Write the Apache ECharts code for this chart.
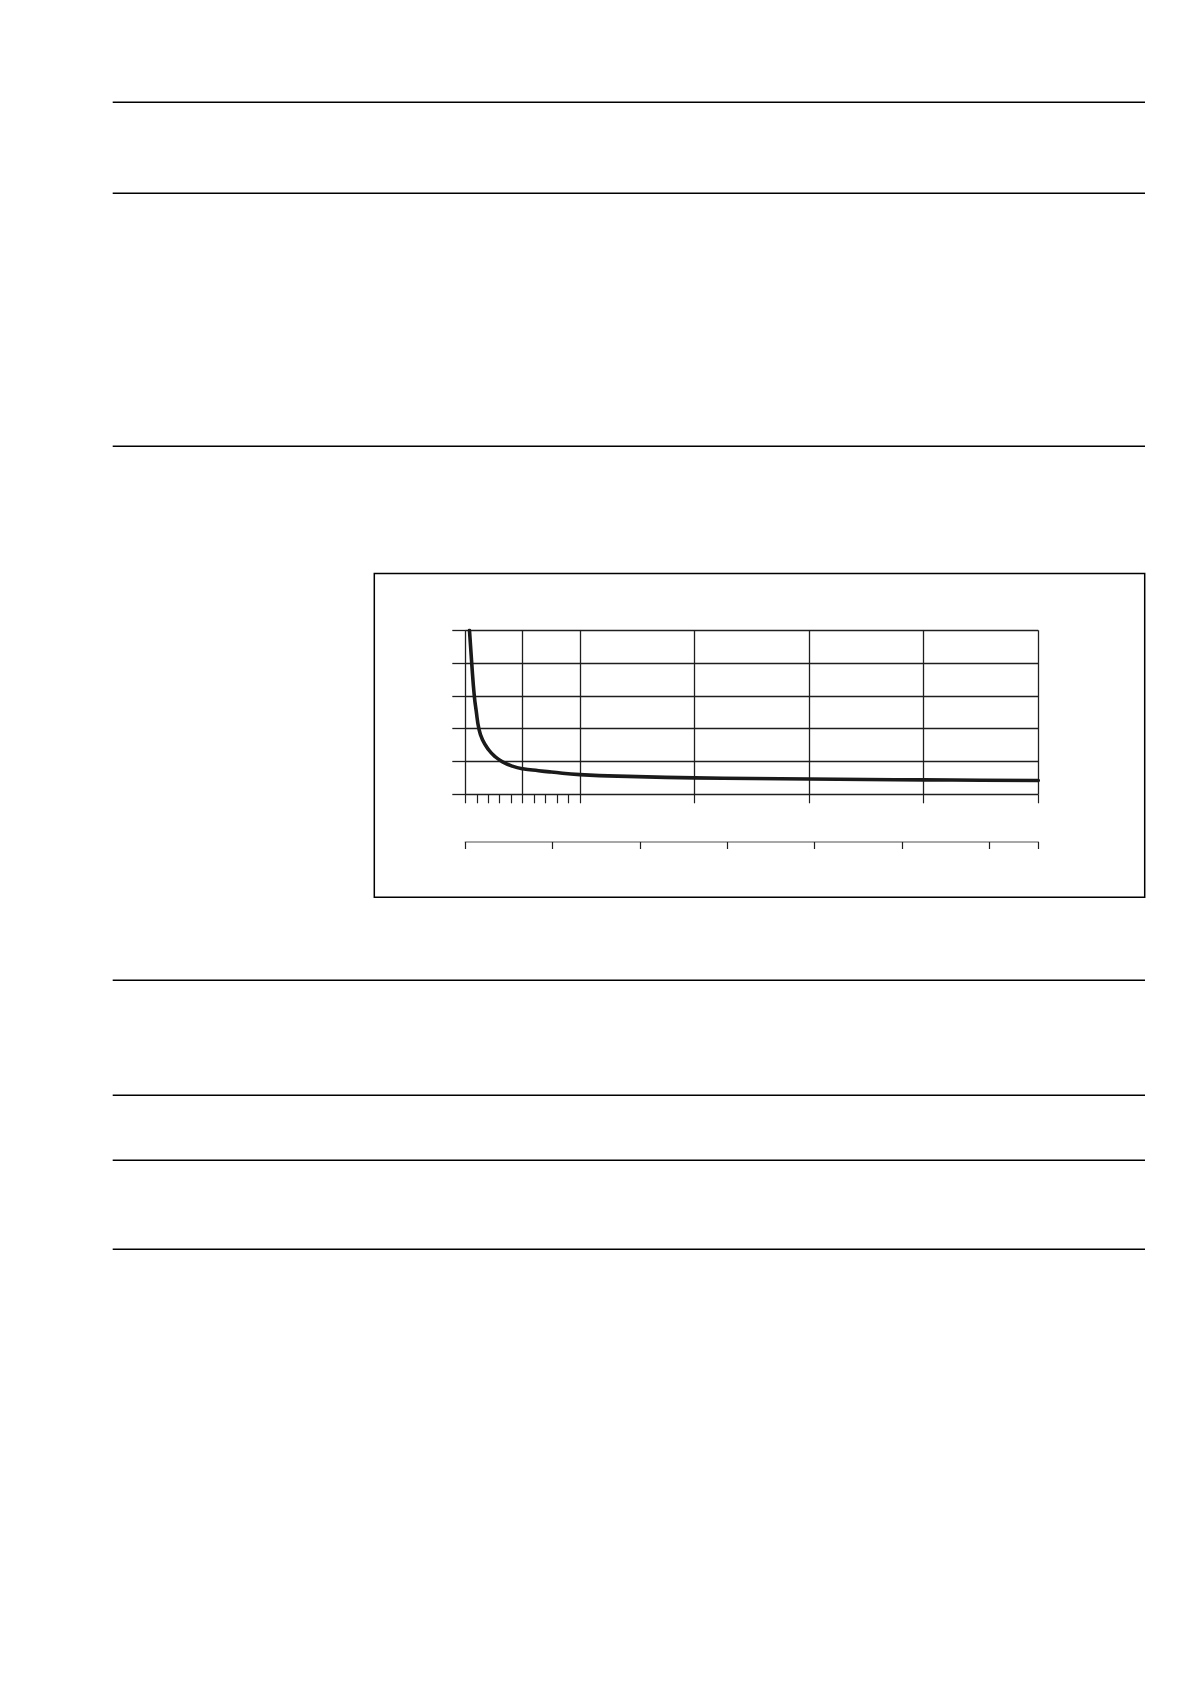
<!DOCTYPE html>
<html>
<head>
<meta charset="utf-8">
<script src="https://cdn.jsdelivr.net/npm/echarts@6/dist/echarts.min.js"></script>
<style>
	html, body { margin: 0; padding: 0; background: #fff; }
	#main { width: 1190px; height: 1684px; }
</style>
</head>
<body>
<div id="main"></div>
<script>
// curve
var curveX = [0.073, 0.112, 0.157, 0.19, 0.237, 0.3, 0.41, 0.52, 0.65, 0.82, 1.0, 1.28, 1.5, 2.0, 3.0, 4.0, 5.0, 6.0, 7.0, 8.0, 9.0, 10.0];
var curveY = [5.0, 4.0, 3.0, 2.55, 2.0, 1.66, 1.35, 1.15, 0.99, 0.86, 0.78, 0.72, 0.68, 0.6, 0.54, 0.5, 0.48, 0.465, 0.45, 0.44, 0.43, 0.42];

// grid lines and ticks of the main x axis
var gridX = [0, 1, 2, 4, 6, 8, 10];
var tickX = [0, 0.2, 0.4, 0.6, 0.8, 1, 1.2, 1.4, 1.6, 1.8, 2, 4, 6, 8, 10];
// second scale under the chart
var tickX2 = [0, 1, 2, 3, 4, 5, 6, 6.56];

// page rules (y positions)
var rulesY = [102.3, 193.3, 446.3, 980.3, 1095.3, 1160.3, 1249.3];

function drawPage(chart) {
	var dark = '#1e1e1e';
	var graphics = [];
	for (var i = 0; i < rulesY.length; i++) {
		graphics.push({
			type : 'line',
			shape : { x1 : 112.7, y1 : rulesY[i], x2 : 1145, y2 : rulesY[i] },
			style : { stroke : '#000', lineWidth : 1.4 }
		});
	}
	// frame round the chart
	graphics.push({
		type : 'rect',
		shape : { x : 374.3, y : 573.5, width : 770.4, height : 323.8 },
		style : { fill : 'none', stroke : '#000', lineWidth : 1.5 }
	});

	var data = [];
	for (var k = 0; k < curveX.length; k++) {
		data.push([ curveX[k], curveY[k] ]);
	}

	chart.setOption({
		animation : false,
		backgroundColor : '#fff',
		graphic : graphics,
		grid : {
			left : 465.3,
			top : 630.3,
			width : 573,
			height : 164,
			containLabel : false
		},
		xAxis : [ {
			// vertical grid lines drawn as inside ticks
			type : 'value',
			min : 0,
			max : 10,
			position : 'bottom',
			axisLine : { show : false },
			axisLabel : { show : false },
			splitLine : { show : false },
			axisTick : {
				show : true,
				inside : true,
				length : 164,
				customValues : gridX,
				lineStyle : { color : dark, width : 1.3 }
			}
		}, {
			type : 'value',
			min : 0,
			max : 10,
			position : 'bottom',
			offset : 0,
			axisLine : { show : false },
			axisLabel : { show : false },
			splitLine : { show : false },
			axisTick : {
				show : true,
				length : 9,
				customValues : tickX,
				lineStyle : { color : dark, width : 1.2 }
			}
		}, {
			type : 'value',
			min : 0,
			max : 6.56,
			position : 'bottom',
			offset : 47.7,
			axisLine : { show : true, lineStyle : { color : '#8a8a8a', width : 1.5 } },
			axisLabel : { show : false },
			splitLine : { show : false },
			axisTick : {
				show : true,
				length : 7,
				customValues : tickX2,
				lineStyle : { color : dark, width : 1.2 }
			}
		} ],
		yAxis : [ {
			type : 'value',
			min : 0,
			max : 5,
			interval : 1,
			axisLine : { show : false },
			axisLabel : { show : false },
			axisTick : {
				show : true,
				length : 13,
				lineStyle : { color : dark, width : 1.3 }
			},
			splitLine : {
				show : true,
				lineStyle : { color : dark, width : 1.3 }
			}
		} ],
		series : [ {
			type : 'line',
			xAxisIndex : 0,
			data : data,
			smooth : 0.5,
			showSymbol : false,
			clip : true,
			lineStyle : { color : '#1a1a1a', width : 3.6, cap : 'round', join : 'round' }
		} ]
	});
}

var myChart = echarts.init(document.getElementById('main'));
drawPage(myChart);
</script>
</body>
</html>
